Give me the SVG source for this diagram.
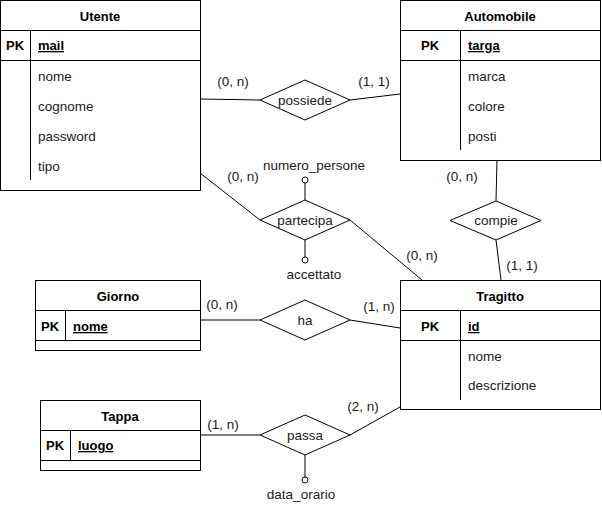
<svg xmlns="http://www.w3.org/2000/svg" width="602" height="514" viewBox="0 0 602 514">
<style>
.box{fill:#fff;stroke:#000;stroke-width:1}
.ln{fill:none;stroke:#000;stroke-width:1}
.dm{fill:#fff;stroke:#000;stroke-width:1}
.ac{fill:#fff;stroke:#000;stroke-width:1}
text{font-family:"Liberation Sans",Arial,Helvetica,sans-serif;font-size:13.5px;fill:#1a1a1a}
.t{font-weight:bold;font-size:13px;text-anchor:middle;fill:#000}
.pkc{font-weight:bold;font-size:13px;text-anchor:middle;fill:#000}
.c{text-anchor:middle}
.u{font-weight:bold;font-size:13px;text-decoration:underline;fill:#000}
</style>
<rect width="602" height="514" fill="#fff"/>
<g id="connectors">
<line class="ln" x1="200" y1="99" x2="260" y2="100"/>
<line class="ln" x1="350" y1="100" x2="400" y2="94"/>
<line class="ln" x1="200" y1="173" x2="260" y2="220"/>
<line class="ln" x1="350" y1="220" x2="422" y2="280"/>
<line class="ln" x1="497" y1="160" x2="496" y2="201"/>
<line class="ln" x1="496" y1="240" x2="501" y2="280"/>
<line class="ln" x1="200" y1="320" x2="260" y2="320"/>
<line class="ln" x1="350" y1="320" x2="400" y2="328"/>
<line class="ln" x1="200" y1="435" x2="260" y2="435"/>
<line class="ln" x1="350" y1="435" x2="400" y2="407"/>
<line class="ln" x1="305" y1="183" x2="305" y2="200"/>
<line class="ln" x1="305" y1="240" x2="305" y2="257"/>
<line class="ln" x1="305" y1="455" x2="305" y2="477"/>
<text class="c" x="233" y="86">(0, n)</text>
<text class="c" x="374" y="86">(1, 1)</text>
<text class="c" x="243" y="181">(0, n)</text>
<text class="c" x="462" y="181">(0, n)</text>
<text class="c" x="422" y="260">(0, n)</text>
<text class="c" x="522" y="270">(1, 1)</text>
<text class="c" x="222" y="309">(0, n)</text>
<text class="c" x="379" y="311">(1, n)</text>
<text class="c" x="223" y="429">(1, n)</text>
<text class="c" x="363" y="411">(2, n)</text>
</g>
<g id="utente">
<rect class="box" x="0.5" y="0.5" width="200" height="190"/>
<line class="ln" x1="0" y1="30.5" x2="200" y2="30.5"/>
<line class="ln" x1="0" y1="60.5" x2="200" y2="60.5"/>
<line class="ln" x1="30.5" y1="30" x2="30.5" y2="180"/>
<text class="t" x="100" y="21">Utente</text>
<text class="pkc" x="15" y="50">PK</text>
<text class="u" x="38" y="50">mail</text>
<text x="38" y="81">nome</text>
<text x="38" y="111">cognome</text>
<text x="38" y="141">password</text>
<text x="38" y="171">tipo</text>
</g>
<g id="automobile">
<rect class="box" x="400.5" y="0.5" width="200" height="160"/>
<line class="ln" x1="400" y1="30.5" x2="600" y2="30.5"/>
<line class="ln" x1="400" y1="60.5" x2="600" y2="60.5"/>
<line class="ln" x1="460.5" y1="30" x2="460.5" y2="150"/>
<text class="t" x="500" y="21">Automobile</text>
<text class="pkc" x="430" y="50">PK</text>
<text class="u" x="468" y="50">targa</text>
<text x="468" y="81">marca</text>
<text x="468" y="111">colore</text>
<text x="468" y="141">posti</text>
</g>
<g id="giorno">
<rect class="box" x="35.5" y="280.5" width="165" height="70"/>
<line class="ln" x1="35" y1="310.5" x2="200" y2="310.5"/>
<line class="ln" x1="35" y1="340.5" x2="200" y2="340.5"/>
<line class="ln" x1="65.5" y1="310" x2="65.5" y2="340"/>
<text class="t" x="118" y="301">Giorno</text>
<text class="pkc" x="50" y="331">PK</text>
<text class="u" x="73" y="331">nome</text>
</g>
<g id="tragitto">
<rect class="box" x="400.5" y="280.5" width="200" height="129"/>
<line class="ln" x1="400" y1="310.5" x2="600" y2="310.5"/>
<line class="ln" x1="400" y1="340.5" x2="600" y2="340.5"/>
<line class="ln" x1="460.5" y1="310" x2="460.5" y2="400"/>
<text class="t" x="500" y="301">Tragitto</text>
<text class="pkc" x="430" y="331">PK</text>
<text class="u" x="468" y="331">id</text>
<text x="468" y="361">nome</text>
<text x="468" y="390">descrizione</text>
</g>
<g id="tappa">
<rect class="box" x="40.5" y="400.5" width="160" height="70"/>
<line class="ln" x1="40" y1="430.5" x2="200" y2="430.5"/>
<line class="ln" x1="40" y1="460.5" x2="200" y2="460.5"/>
<line class="ln" x1="70.5" y1="430" x2="70.5" y2="460"/>
<text class="t" x="120" y="421">Tappa</text>
<text class="pkc" x="55" y="450">PK</text>
<text class="u" x="78" y="450">luogo</text>
</g>
<g id="possiede">
<polygon class="dm" points="305,80 350,100 305,120 260,100"/>
<text class="c" x="305" y="105">possiede</text>
</g>
<g id="partecipa">
<polygon class="dm" points="305,200 350,220 305,240 260,220"/>
<text class="c" x="305" y="225">partecipa</text>
</g>
<g id="compie">
<polygon class="dm" points="496,201 541,220.5 496,240 450,220.5"/>
<text class="c" x="496" y="225">compie</text>
</g>
<g id="ha">
<polygon class="dm" points="305,300 350,320 305,340 260,320"/>
<text class="c" x="305" y="325">ha</text>
</g>
<g id="passa">
<polygon class="dm" points="305,415 350,435 305,455 260,435"/>
<text class="c" x="305" y="440">passa</text>
</g>
<g id="attr-numero_persone">
<circle class="ac" cx="305" cy="180" r="3"/>
<text class="c" x="314" y="170">numero_persone</text>
</g>
<g id="attr-accettato">
<circle class="ac" cx="305" cy="260" r="3"/>
<text class="c" x="314" y="279">accettato</text>
</g>
<g id="attr-data_orario">
<circle class="ac" cx="305" cy="480" r="3"/>
<text class="c" x="301" y="499">data_orario</text>
</g>
</svg>
